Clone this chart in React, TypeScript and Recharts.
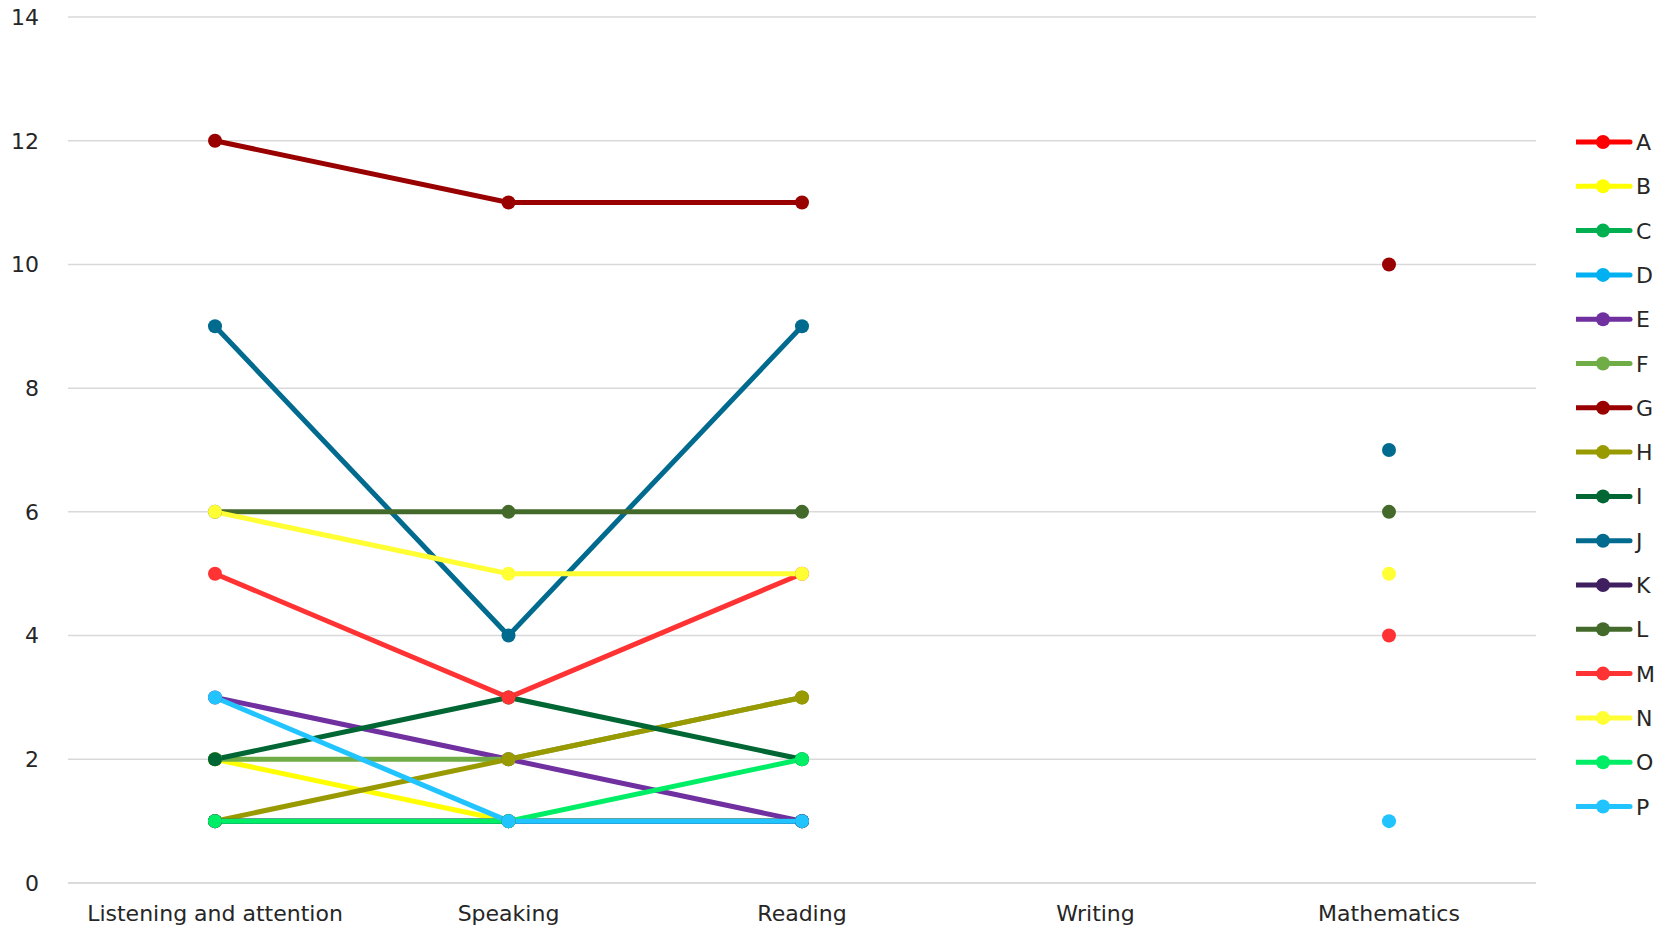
import { LineChart, Line, XAxis, YAxis, CartesianGrid, Legend } from 'recharts';

const areas = ['Listening and attention', 'Speaking', 'Reading', 'Writing', 'Mathematics'];

// one value per area, null where nothing was recorded
const pupilA = [1, 1, 1, null, null];
const pupilB = [2, 1, 1, null, null];
const pupilC = [1, 1, 1, null, null];
const pupilD = [1, 1, 1, null, null];
const pupilE = [3, 2, 1, null, null];
const pupilF = [2, 2, 3, null, null];
const pupilG = [12, 11, 11, null, 10];
const pupilH = [1, 2, 3, null, null];
const pupilI = [2, 3, 2, null, null];
const pupilJ = [9, 4, 9, null, 7];
const pupilK = [1, 1, 1, null, null];
const pupilL = [6, 6, 6, null, 6];
const pupilM = [5, 3, 5, null, 4];
const pupilN = [6, 5, 5, null, 5];
const pupilO = [1, 1, 2, null, null];
const pupilP = [3, 1, 1, null, 1];

const yTicks = [0, 2, 4, 6, 8, 10, 12, 14];

const series = [
  { key: 'A', values: pupilA, color: '#ff0000' },
  { key: 'B', values: pupilB, color: '#ffff00' },
  { key: 'C', values: pupilC, color: '#00b050' },
  { key: 'D', values: pupilD, color: '#00b0f0' },
  { key: 'E', values: pupilE, color: '#7030a0' },
  { key: 'F', values: pupilF, color: '#70ad47' },
  { key: 'G', values: pupilG, color: '#990000' },
  { key: 'H', values: pupilH, color: '#999900' },
  { key: 'I', values: pupilI, color: '#006633' },
  { key: 'J', values: pupilJ, color: '#006b8f' },
  { key: 'K', values: pupilK, color: '#3f1f5f' },
  { key: 'L', values: pupilL, color: '#436a2b' },
  { key: 'M', values: pupilM, color: '#ff3333' },
  { key: 'N', values: pupilN, color: '#ffff33' },
  { key: 'O', values: pupilO, color: '#00ee66' },
  { key: 'P', values: pupilP, color: '#22c4ff' },
];

const rows = areas.map((area, i) => {
  const row: Record<string, string | number | null> = { area };
  series.forEach((s) => {
    row[s.key] = s.values[i];
  });
  return row;
});

const FONT = '"DejaVu Sans", sans-serif';
const TEXT = '#262626';

function SeriesLegend() {
  const step = 44.3;
  return (
    <svg width={90} height={step * series.length + 10}>
      {series.map((s, i) => {
        const y = 22 + i * step;
        return (
          <g key={s.key}>
            <line x1={0} x2={54} y1={y} y2={y} stroke={s.color} strokeWidth={5} strokeLinecap="round" />
            <circle cx={27} cy={y} r={7} fill={s.color} />
            <text x={60} y={y + 8} fontSize={22} fontFamily={FONT} fill={TEXT}>
              {s.key}
            </text>
          </g>
        );
      })}
    </svg>
  );
}

export default function App() {
  return (
    <div style={{ position: 'absolute', left: 0, top: 0, background: '#fff' }}>
      <LineChart
        width={1666}
        height={930}
        data={rows}
        margin={{ top: 17, right: 130, bottom: 0, left: 18 }}
      >
        <CartesianGrid vertical={false} stroke="#d9d9d9" strokeWidth={1.5} />
        <XAxis
          dataKey="area"
          axisLine={{ stroke: '#d9d9d9', strokeWidth: 1.5 }}
          tickLine={false}
          height={47}
          tickMargin={16}
          interval={0}
          padding={{ left: 147, right: 147 }}
          tick={{ fontSize: 22, fontFamily: FONT, fill: TEXT }}
        />
        <YAxis
          domain={[0, 14]}
          ticks={yTicks}
          width={50}
          axisLine={false}
          tickLine={false}
          tickMargin={23}
          tick={{ fontSize: 22, fontFamily: FONT, fill: TEXT }}
        />
        <Legend
          layout="vertical"
          align="center"
          verticalAlign="middle"
          wrapperStyle={{ position: 'absolute', left: 1576, top: 120, width: 90 }}
          content={() => <SeriesLegend />}
        />
        {series.map((s) => (
          <Line
            key={s.key}
            dataKey={s.key}
            stroke={s.color}
            strokeWidth={5}
            dot={{ r: 7, fill: s.color, stroke: 'none' }}
            activeDot={false}
            isAnimationActive={false}
          />
        ))}
      </LineChart>
    </div>
  );
}
